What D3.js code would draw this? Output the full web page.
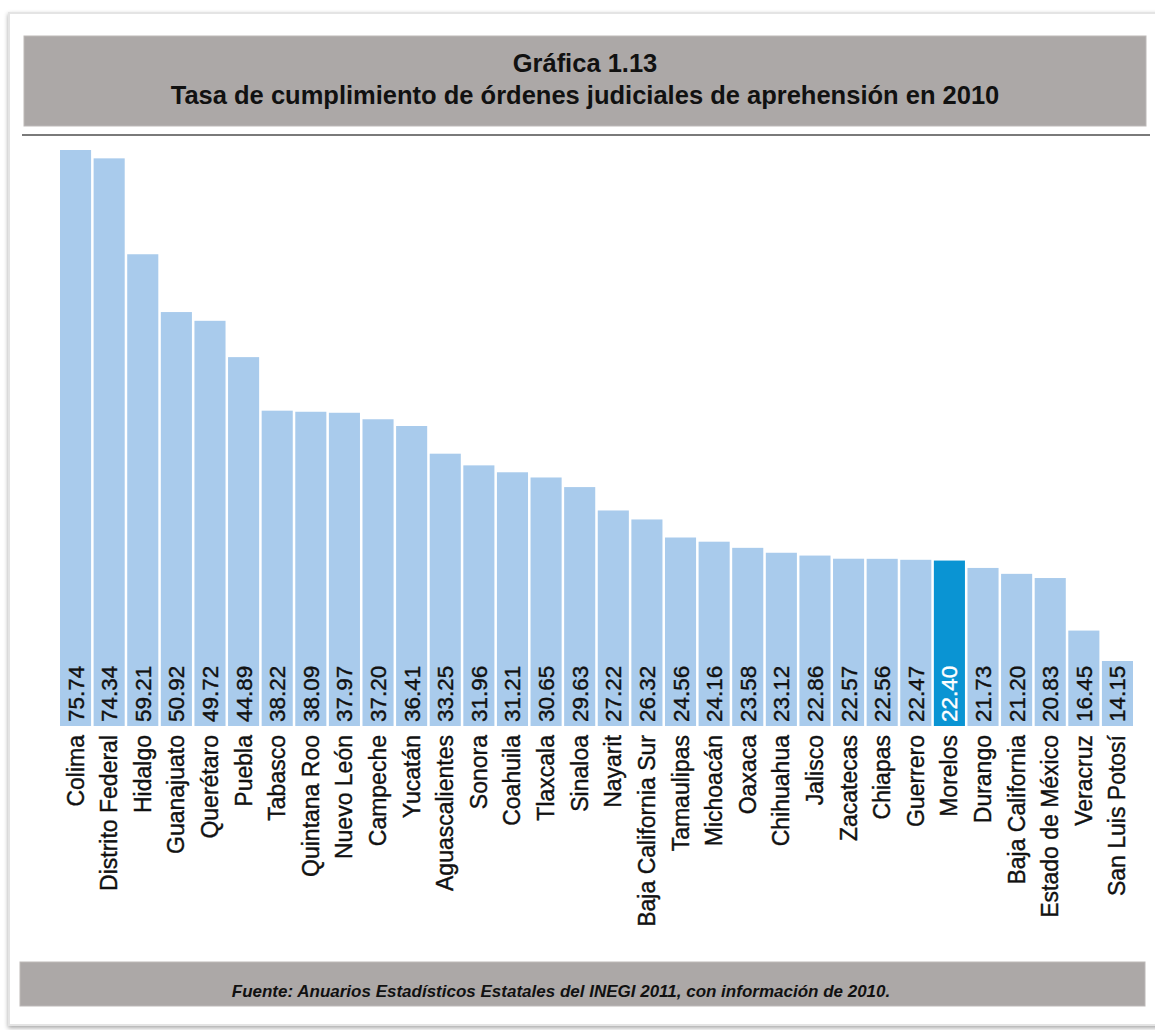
<!DOCTYPE html>
<html><head><meta charset="utf-8">
<script src="https://cdn.jsdelivr.net/npm/d3@7"></script>
<style>body{margin:0;background:#fff}svg{display:block}</style>
</head><body>
<script>
const states = ["Colima","Distrito Federal","Hidalgo","Guanajuato","Querétaro","Puebla","Tabasco","Quintana Roo","Nuevo León","Campeche","Yucatán","Aguascalientes","Sonora","Coahuila","Tlaxcala","Sinaloa","Nayarit","Baja California Sur","Tamaulipas","Michoacán","Oaxaca","Chihuahua","Jalisco","Zacatecas","Chiapas","Guerrero","Morelos","Durango","Baja California","Estado de México","Veracruz","San Luis Potosí"];
const values = [75.74,74.34,59.21,50.92,49.72,44.89,38.22,38.09,37.97,37.20,36.41,33.25,31.96,31.21,30.65,29.63,27.22,26.32,24.56,24.16,23.58,23.12,22.86,22.57,22.56,22.47,22.40,21.73,21.20,20.83,16.45,14.15];
const highlighted = ["Morelos"];
const titleLines = ["Gráfica 1.13","Tasa de cumplimiento de órdenes judiciales de aprehensión en 2010"];
const sourceText = "Fuente: Anuarios Estadísticos Estatales del INEGI 2011, con información de 2010.";

const W = 1155, H = 1030;
const FONT = "'Liberation Sans', Arial, Helvetica, sans-serif";
const data = states.map((s, i) => ({state: s, value: values[i]}));

const svg = d3.select("body").append("svg").attr("width", W).attr("height", H);

// card
const defs = svg.append("defs");
const f = defs.append("filter").attr("id","sh").attr("x","-5%").attr("y","-5%").attr("width","110%").attr("height","110%");
f.append("feDropShadow").attr("dx",0).attr("dy",2).attr("stdDeviation",2).attr("flood-color","#000").attr("flood-opacity",0.35);
svg.append("rect").attr("x",9).attr("y",13).attr("width",1170).attr("height",1012)
  .attr("fill","#fff").attr("stroke","#e4e4e4").attr("stroke-width",2).attr("filter","url(#sh)");

// title box
svg.append("rect").attr("x",24).attr("y",36).attr("width",1122).attr("height",90)
  .attr("fill","#aca8a7").attr("stroke","#bdb9b8").attr("stroke-width",1);
svg.append("g").selectAll("text").data(titleLines).join("text")
  .attr("x",585).attr("y",(d,i)=> i===0 ? 72 : 104)
  .attr("text-anchor","middle").attr("font-family",FONT).attr("font-weight","bold")
  .attr("font-size",25.5).attr("fill","#111").text(d=>d);
svg.append("line").attr("x1",22).attr("x2",1150).attr("y1",135).attr("y2",135)
  .attr("stroke","#7a7a7a").attr("stroke-width",2);

// scales
const bottom = 726;
const x = d3.scaleBand().domain(states).range([60,1133]).paddingInner(0.075).paddingOuter(0);
const y = d3.scaleSqrt().domain([d3.min(values), d3.max(values)]).range([661,150]);

const g = svg.append("g");
g.selectAll("rect.bar").data(data).join("rect").attr("class","bar")
  .attr("x", d=>x(d.state)).attr("width", x.bandwidth())
  .attr("y", d=>y(d.value)).attr("height", d=>bottom - y(d.value))
  .attr("fill", d=> highlighted.includes(d.state) ? "#0a94d3" : "#a9cbec");

const fmt = d3.format(".2f");
g.selectAll("text.val").data(data).join("text").attr("class","val")
  .attr("transform", d=>`translate(${x(d.state)+x.bandwidth()/2+8},${bottom-4}) rotate(-90)`)
  .attr("font-family",FONT).attr("font-size",22.5)
  .attr("fill", d=> highlighted.includes(d.state) ? "#fff" : "#111")
  .attr("stroke", d=> highlighted.includes(d.state) ? "#fff" : "#111").attr("stroke-width",0.4)
  .text(d=>fmt(d.value));

// category axis
const xAxis = d3.axisBottom(x).tickSize(0).tickPadding(0);
const ax = svg.append("g").attr("transform",`translate(0,${bottom})`).call(xAxis);
ax.select(".domain").remove();
ax.selectAll(".tick text")
  .attr("font-family",FONT).attr("font-size",23).attr("fill","#111")
  .attr("stroke","#111").attr("stroke-width",0.4)
  .attr("text-anchor","end").attr("dy",null).attr("y",null)
  .attr("transform","translate(8,9) rotate(-90)");

// footer
svg.append("rect").attr("x",20).attr("y",962).attr("width",1125).attr("height",44)
  .attr("fill","#aca8a7").attr("stroke","#bdb9b8").attr("stroke-width",1);
svg.append("text").attr("x",561).attr("y",997).attr("text-anchor","middle")
  .attr("font-family",FONT).attr("font-weight","bold").attr("font-style","italic")
  .attr("font-size",17).attr("fill","#111").text(sourceText);
</script>
</body></html>
